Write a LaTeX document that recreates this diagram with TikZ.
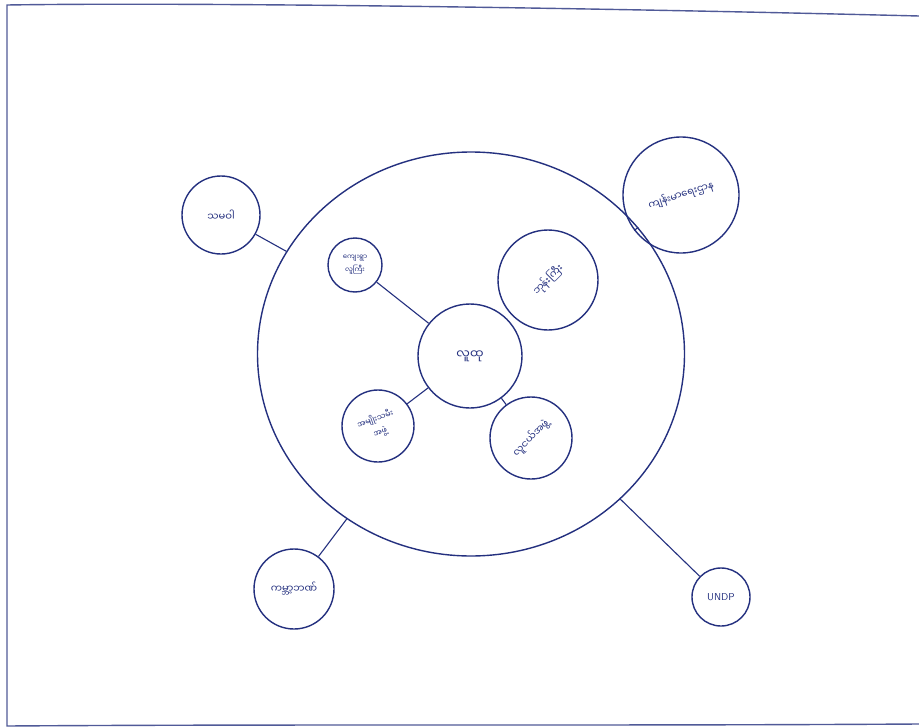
\documentclass[tikz,border=0pt]{standalone}
\usepackage{fontspec}
\usetikzlibrary{shapes.geometric}
\newfontfamily\mya[Script=Myanmar]{Noto Sans Myanmar UI}
\definecolor{ink}{HTML}{24307F}
\begin{document}
\begin{tikzpicture}[x=1pt,y=-1pt,
  bub/.style={circle,draw=ink,line width=1.4pt,inner sep=0pt,text=ink,font=\mya\fontsize{10}{12}\selectfont,align=center},
  link/.style={draw=ink,line width=1.1pt}]
\useasboundingbox (0,0) rectangle (919,728);
\fill[white] (0,0) rectangle (919,728);
% frame
\draw[ink!80,line width=1.4pt] (919,16) .. controls (600,8) and (200,2) .. (7,5) -- (7,726) .. controls (300,724) and (600,726) .. (919,724);
% big circle
\node[ellipse,draw=ink,line width=1.4pt,minimum width=427pt,minimum height=404pt,inner sep=0pt] (big) at (471,354) {};
% centre
\node[bub,minimum size=104pt,font=\mya\fontsize{12}{14}\selectfont] (c) at (470,356) {လူထု};
% inner
\node[bub,minimum size=100pt] (itr) at (548,280) {\rotatebox{45}{ဘုန်းကြီး}};
\node[bub,minimum size=54pt,font=\mya\fontsize{7}{9}\selectfont] (itl) at (355,265) {ကျေးရွာ\\[3pt]လူကြီး};
\node[bub,minimum size=72pt,font=\mya\fontsize{8}{10}\selectfont] (ibl) at (378,426) {\rotatebox{20}{\begin{tabular}{@{}c@{}}အမျိုးသမီး\\[4pt]အဖွဲ့\end{tabular}}};
\node[bub,minimum size=82pt] (ibr) at (531,438) {\rotatebox{45}{လူငယ်အဖွဲ့}};
% outer
\node[bub,minimum size=78pt] (otl) at (221,215) {သမဝါ};
\node[bub,minimum size=116pt] (otr) at (681,195) {\rotatebox{18}{ကျန်းမာရေးဌာန}};
\node[bub,minimum size=80pt] (obl) at (294,589) {ကမ္ဘာ့ဘဏ်};
\node[bub,minimum size=58pt,font=\sffamily\fontsize{10}{12}\selectfont] (obr) at (721,597) {UNDP};
% connectors
\draw[link] (otl) -- (big);
\draw[link] (otr) -- (big);
\draw[link] (obl) -- (big);
\draw[link] (obr) -- (big);
\draw[link] (itl) -- (c);
\draw[link] (ibl) -- (c);
\draw[link] (ibr) -- (c);
\end{tikzpicture}
\end{document}
